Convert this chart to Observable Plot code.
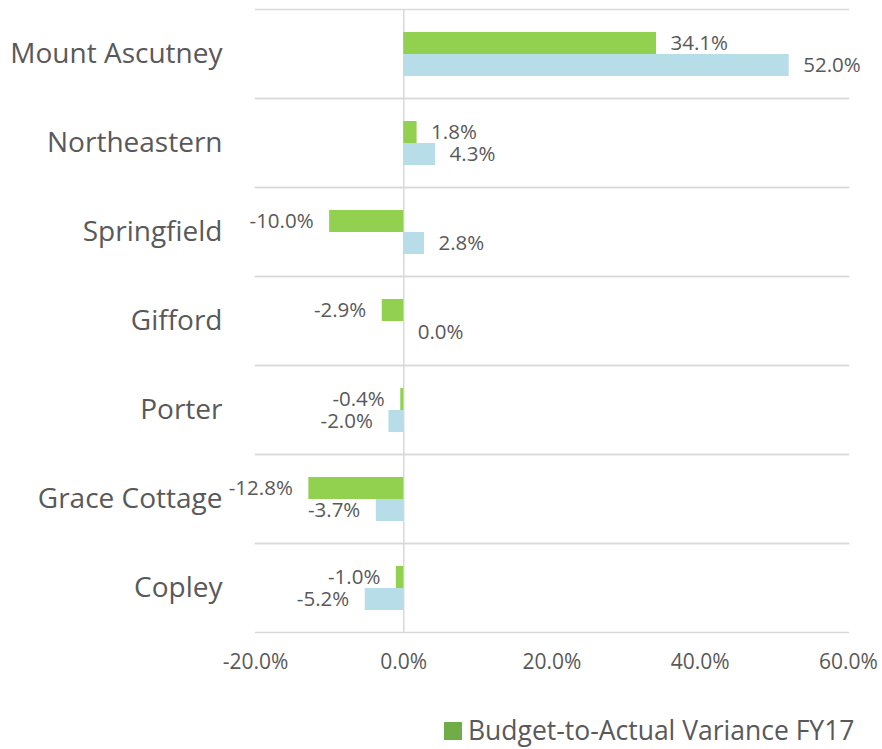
<!DOCTYPE html>
<html>
<head>
<meta charset="utf-8">
<script src="https://cdn.jsdelivr.net/npm/d3@7"></script>
<script src="https://cdn.jsdelivr.net/npm/@observablehq/plot@0.6"></script>
<style>
  body { margin: 0; background: white; font-family: "Open Sans", sans-serif; }
  #legend { position: relative; width: 882px; height: 44px; }
  #legend .sw { position: absolute; left: 444px; top: 17px; width: 18px; height: 18px; background: #70AD47; }
  #legend .lb { position: absolute; left: 468px; top: 5px; font-size: 26.5px; line-height: 40px; color: #595959; white-space: nowrap; }
</style>
</head>
<body>
<div id="chart"></div>
<div id="legend"><div class="sw"></div><div class="lb">Budget-to-Actual Variance FY17</div></div>
<script>
const categories = ["Mount Ascutney", "Northeastern", "Springfield", "Gifford", "Porter", "Grace Cottage", "Copley"];
const seriesNames = ["Budget-to-Actual Variance FY17", "Comparison"];
const fy17Values = [34.1, 1.8, -10.0, -2.9, -0.4, -12.8, -1.0];
const comparisonValues = [52.0, 4.3, 2.8, 0.0, -2.0, -3.7, -5.2];
const xTicks = [-20, 0, 20, 40, 60];

const data = categories.flatMap((c, i) => [
  {cat: c, series: seriesNames[0], value: fy17Values[i]},
  {cat: c, series: seriesNames[1], value: comparisonValues[i]}
]);
const fmt = d => d.toFixed(1) + "%";

const chart = Plot.plot({
  width: 882,
  height: 705,
  marginLeft: 255,
  marginRight: 34,
  marginTop: 7,
  marginBottom: 71,
  style: {fontFamily: "Open Sans", color: "#595959", background: "white"},
  x: {domain: [-20, 60]},
  y: {domain: seriesNames, paddingInner: 0, paddingOuter: 0.947, axis: null},
  fy: {domain: categories, padding: 0},
  color: {domain: seriesNames, range: ["#92D050", "#B7DDE8"]},
  marks: [
    Plot.frame({anchor: "top", stroke: "#D9D9D9", strokeWidth: 1.5}),
    Plot.frame({anchor: "bottom", stroke: "#D9D9D9", strokeWidth: 1.5}),
    Plot.ruleX([0], {stroke: "#D9D9D9", strokeWidth: 1.5}),
    Plot.barX(data, {fy: "cat", y: "series", x: "value", fill: "series"}),
    Plot.text(data.filter(d => d.value >= 0), {fy: "cat", y: "series", x: "value", text: d => fmt(d.value), textAnchor: "start", dx: 14, fontSize: 20.5, fill: "#595959"}),
    Plot.text(data.filter(d => d.value < 0), {fy: "cat", y: "series", x: "value", text: d => fmt(d.value), textAnchor: "end", dx: -16, fontSize: 20.5, fill: "#595959"}),
    Plot.axisFy({anchor: "left", tickSize: 0, tickPadding: 33, fontSize: 28, label: null}),
    Plot.axisX({ticks: xTicks, tickFormat: fmt, tickSize: 0, tickPadding: 22, fontSize: 21, label: null})
  ]
});
document.getElementById("chart").appendChild(chart);
</script>
</body>
</html>
